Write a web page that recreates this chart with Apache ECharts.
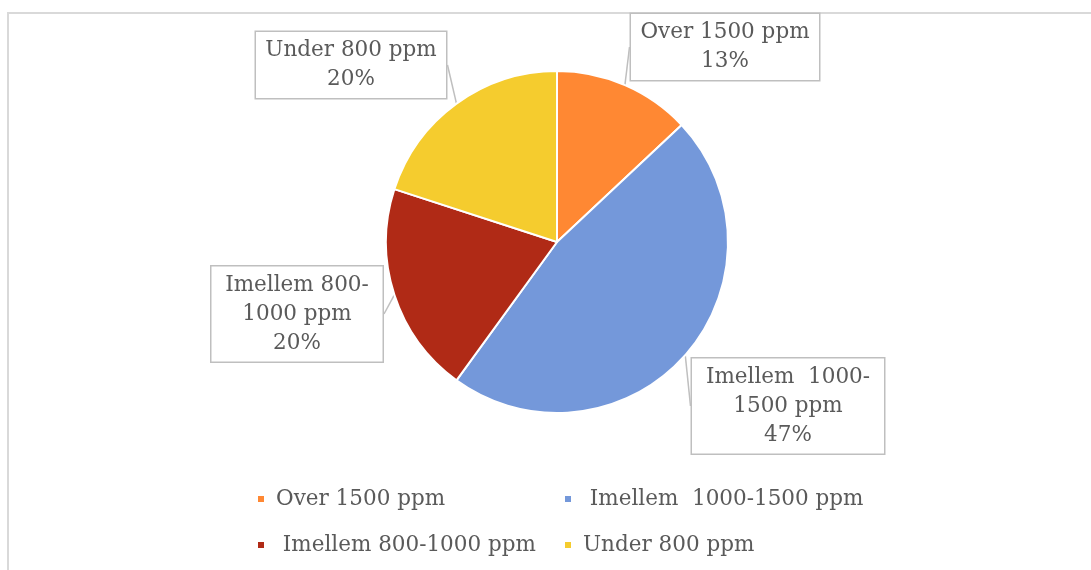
<!DOCTYPE html>
<html>
<head>
<meta charset="utf-8">
<style>
  html, body { margin: 0; padding: 0; background: #fff; }
  #chart { width: 1091px; height: 570px; }
</style>
<script src="https://cdn.jsdelivr.net/npm/echarts@6/dist/echarts.min.js"></script>
</head>
<body>
<div id="chart"></div>
<script>
// CO2 concentration bands and their share of measurements
const categories = ['Over 1500 ppm', 'Imellem  1000-1500 ppm', 'Imellem 800-1000 ppm', 'Under 800 ppm'];
const shares = [13, 47, 20, 20];
const legendTexts = ['Over 1500 ppm', ' Imellem  1000-1500 ppm', ' Imellem 800-1000 ppm', 'Under 800 ppm'];
const labelTexts = ['Over 1500 ppm', 'Imellem  1000-\n1500 ppm', 'Imellem 800-\n1000 ppm', 'Under 800 ppm'];

const colors = ['#FF8833', '#7498DA', '#B02A16', '#F5CC2E'];
const FONT = 'DejaVu Serif';
const TEXT = '#5a5a5a';
const FONT_SIZE = 21.5;

// Callout boxes: centre and content width of each label
const calloutBoxes = [
  { cx: 725, cy: 47, w: 170 },
  { cx: 788, cy: 406, w: 174 },
  { cx: 297, cy: 314, w: 153 },
  { cx: 351, cy: 65, w: 172 }
];

const data = categories.map((name, i) => ({
  name: name,
  value: shares[i],
  itemStyle: { color: colors[i] },
  label: { width: calloutBoxes[i].w }
}));

const chart = echarts.init(document.getElementById('chart'), null, { renderer: 'canvas' });

chart.setOption({
  animation: false,
  backgroundColor: '#fff',
  graphic: [{
    type: 'rect',
    shape: { x: 8, y: 13, width: 1100, height: 600 },
    style: { fill: 'none', stroke: '#d9d9d9', lineWidth: 2 },
    silent: true
  }],
  legend: {
    data: categories,
    left: 251,
    top: 476,
    width: 640,
    orient: 'horizontal',
    icon: 'rect',
    itemWidth: 8,
    itemHeight: 8,
    itemGap: 10,
    formatter: name => legendTexts[categories.indexOf(name)],
    textStyle: {
      fontFamily: FONT,
      fontSize: FONT_SIZE,
      color: TEXT,
      width: 277,
      overflow: 'none',
      lineHeight: 36,
      padding: [0, 0, 0, 6]
    }
  },
  series: [{
    type: 'pie',
    center: [557, 242],
    radius: [0, 171],
    startAngle: 90,
    clockwise: true,
    data: data,
    itemStyle: { borderColor: '#fff', borderWidth: 2 },
    label: {
      show: true,
      position: 'outside',
      formatter: p => labelTexts[p.dataIndex] + '\n' + p.percent.toFixed(0) + '%',
      fontFamily: FONT,
      fontSize: FONT_SIZE,
      lineHeight: 29,
      color: TEXT,
      align: 'center',
      overflow: 'none',
      backgroundColor: '#fff',
      borderColor: '#bfbfbf',
      borderWidth: 1.5,
      padding: [4, 9, 4, 9]
    },
    labelLine: {
      show: true,
      length: 0,
      length2: 0,
      lineStyle: { color: '#bfbfbf', width: 1.5 }
    },
    labelLayout: p => {
      const b = calloutBoxes[p.dataIndex];
      return { x: b.cx, y: b.cy, align: 'center', verticalAlign: 'middle' };
    },
    emphasis: { disabled: true }
  }]
});
</script>
</body>
</html>
